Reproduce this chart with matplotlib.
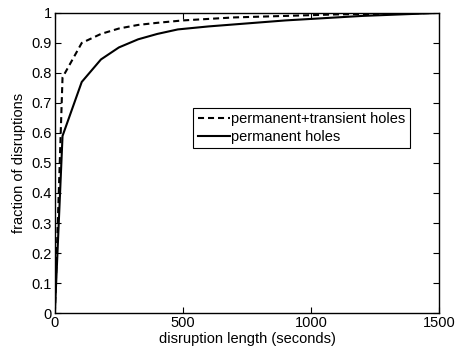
import numpy as np
import matplotlib
matplotlib.use('Agg')
import matplotlib.pyplot as plt

# CDF of disruption lengths
t_all = [0, 30, 105, 180, 250, 325, 400, 500, 700, 900, 1100, 1500]
frac_all = [0.0, 0.785, 0.90, 0.93, 0.948, 0.96, 0.967, 0.975, 0.985, 0.99, 0.995, 1.0]

t_perm = [0, 30, 105, 180, 250, 325, 400, 480, 600, 750, 900, 1000, 1200, 1500]
frac_perm = [0.0, 0.59, 0.77, 0.845, 0.885, 0.912, 0.93, 0.945, 0.955, 0.965, 0.975, 0.98, 0.99, 1.0]

plt.rcParams['font.family'] = ['Liberation Sans', 'DejaVu Sans']
plt.rcParams['font.size'] = 10.5

fig = plt.figure(figsize=(4.57, 3.49), dpi=100)
ax = fig.add_axes([0.120, 0.103, 0.841, 0.860])
ax.plot(t_all, frac_all, 'k--', lw=1.5, dashes=(2.9, 1.9), label='permanent+transient holes')
ax.plot(t_perm, frac_perm, 'k-', lw=1.5, label='permanent holes')

ax.set_xlim(0, 1500)
ax.set_ylim(0, 1)
ax.set_xticks([0, 500, 1000, 1500])
ax.set_yticks(np.arange(0, 1.01, 0.1))
ax.set_yticklabels(['0', '0.1', '0.2', '0.3', '0.4', '0.5', '0.6', '0.7', '0.8', '0.9', '1'])
ax.tick_params(direction='in', top=True, right=True, length=4, width=0.8, pad=2)
for s in ax.spines.values():
    s.set_linewidth(1.0)
ax.set_xlabel('disruption length (seconds)', labelpad=1.5)
ax.set_ylabel('fraction of disruptions', labelpad=4)

leg = ax.legend(loc='upper right', bbox_to_anchor=(0.924, 0.683), fancybox=False,
                edgecolor='k', framealpha=1, handlelength=2.2, handletextpad=0.1,
                borderpad=0.3, labelspacing=0.25, borderaxespad=0)
leg.get_frame().set_linewidth(0.8)

fig.savefig('out.png', dpi=100)
